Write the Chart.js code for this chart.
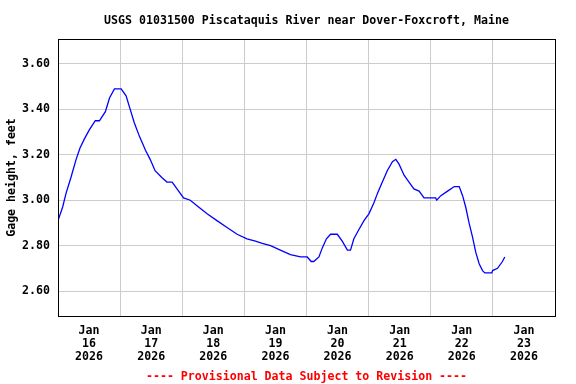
<!DOCTYPE html>
<html lang="en">
<head>
<meta charset="UTF-8">
<title>USGS 01031500 Piscataquis River near Dover-Foxcroft, Maine</title>
<script src="https://cdn.jsdelivr.net/npm/chart.js@4"></script>
<style>
  html, body { margin: 0; padding: 0; background: #fff; }
</style>
</head>
<body>
<canvas id="chart" width="576" height="384"></canvas>
<script>
// ---------------------------------------------------------------------------
// Data: hours since Jan 16 2026 00:00, gage height in feet
// ---------------------------------------------------------------------------
const hours = [
  0, 1.8, 3.1, 5.0, 7.0, 8.5, 10.2, 12.1, 14.4, 16.0, 18.3, 19.9, 21.8, 24.4,
  26.3, 27.9, 29.5, 31.5, 33.8, 35.6, 37.5, 40.1, 42.1, 44.1, 46.6, 48.5, 51.1,
  54.3, 57.6, 61.4, 65.3, 69.2, 73.0, 76.3, 78.9, 82.1, 85.9, 89.8, 93.7, 96.3,
  97.8, 98.8, 100.8, 102.1, 103.7, 105.3, 107.9, 109.8, 111.8, 113.0, 114.3,
  116.2, 118.2, 120.1, 122.1, 123.4, 125.3, 127.2, 129.2, 130.5, 131.7, 133.7,
  135.6, 137.5, 139.5, 141.4, 145.9, 146.3, 147.9, 150.5, 153.1, 155.0, 156.3,
  157.5, 158.8, 160.1, 161.4, 162.7, 164.0, 164.9, 167.6, 167.9, 169.8, 171.7,
  172.6
];
const gageFt = [
  2.91, 2.97, 3.03, 3.10, 3.18, 3.23, 3.27, 3.31, 3.35, 3.35, 3.39, 3.45, 3.49, 3.49,
  3.46, 3.40, 3.34, 3.28, 3.22, 3.18, 3.13, 3.10, 3.08, 3.08, 3.04, 3.01, 3.00,
  2.97, 2.94, 2.91, 2.88, 2.85, 2.83, 2.82, 2.81, 2.80, 2.78, 2.76, 2.75, 2.75,
  2.73, 2.73, 2.75, 2.79, 2.83, 2.85, 2.85, 2.82, 2.78, 2.78, 2.83,
  2.87, 2.91, 2.94, 2.99, 3.03, 3.08, 3.13, 3.17, 3.18, 3.16, 3.11,
  3.08, 3.05, 3.04, 3.01, 3.01, 3.00, 3.02, 3.04, 3.06, 3.06, 3.02,
  2.97, 2.90, 2.84, 2.77, 2.72, 2.69, 2.68, 2.68, 2.69, 2.70, 2.73,
  2.75
];
const dayLabels = ['16', '17', '18', '19', '20', '21', '22', '23'];
const monthLabel = 'Jan';
const yearLabel = '2026';
const yTicks = [2.6, 2.8, 3.0, 3.2, 3.4, 3.6];

const FONT = { family: "'DejaVu Sans Mono', monospace", size: 11.6, weight: 'bold', lineHeight: 1.12 };

// black frame round the plot area
const framePlugin = {
  id: 'frame',
  afterDraw(chart) {
    const { ctx, chartArea: a } = chart;
    ctx.save();
    ctx.strokeStyle = '#000';
    ctx.lineWidth = 1;
    ctx.strokeRect(Math.round(a.left) + 0.5, Math.round(a.top) + 0.5,
                   Math.round(a.right - a.left), Math.round(a.bottom - a.top));
    ctx.restore();
  }
};

new Chart(document.getElementById('chart'), {
  type: 'line',
  data: {
    datasets: [{
      data: hours.map((h, i) => ({ x: h, y: gageFt[i] })),
      borderColor: '#0000ff',
      borderWidth: 1.3,
      pointRadius: 0,
      tension: 0,
    }]
  },
  options: {
    responsive: false,
    animation: false,
    devicePixelRatio: 1,
    layout: { padding: { top: 0, left: 0, right: 21, bottom: 0 } },
    plugins: {
      legend: { display: false },
      tooltip: { enabled: false },
      title: {
        display: true,
        text: 'USGS 01031500 Piscataquis River near Dover-Foxcroft, Maine',
        color: '#000',
        font: FONT,
        fullSize: false,
        padding: { top: 14, bottom: 12 },
      },
      subtitle: {
        display: true,
        position: 'bottom',
        text: '---- Provisional Data Subject to Revision ----',
        color: '#ff0000',
        font: FONT,
        fullSize: false,
        padding: { top: 0, bottom: 1 },
      },
    },
    scales: {
      x: {
        type: 'linear',
        min: 0,
        max: 192,
        border: { display: false },
        afterBuildTicks: axis => {
          const t = [];
          for (let v = 0; v <= 192; v += 12) t.push({ value: v });
          axis.ticks = t;
        },
        afterFit: axis => { axis.height = 54; },
        grid: {
          drawTicks: false,
          lineWidth: 1,
          color: c => (c.tick && c.tick.value % 24 === 0) ? '#cccccc' : 'rgba(0,0,0,0)',
        },
        ticks: {
          autoSkip: false,
          maxRotation: 0,
          padding: 8,
          color: '#000',
          font: FONT,
          callback: v => (v % 24 === 12) ? [monthLabel, dayLabels[(v - 12) / 24], yearLabel] : '',
        },
      },
      y: {
        min: 2.49,
        max: 3.71,
        border: { display: false },
        afterBuildTicks: axis => { axis.ticks = yTicks.map(v => ({ value: v })); },
        afterFit: axis => { axis.width = 58; },
        grid: { drawTicks: false, color: '#cccccc', lineWidth: 1 },
        ticks: {
          padding: 8,
          color: '#000',
          font: FONT,
          callback: v => Number(v).toFixed(2),
        },
        title: {
          display: true,
          text: 'Gage height, feet',
          color: '#000',
          font: FONT,
          padding: { top: 5, bottom: 0 },
        },
      },
    },
  },
  plugins: [framePlugin],
});
</script>
</body>
</html>
